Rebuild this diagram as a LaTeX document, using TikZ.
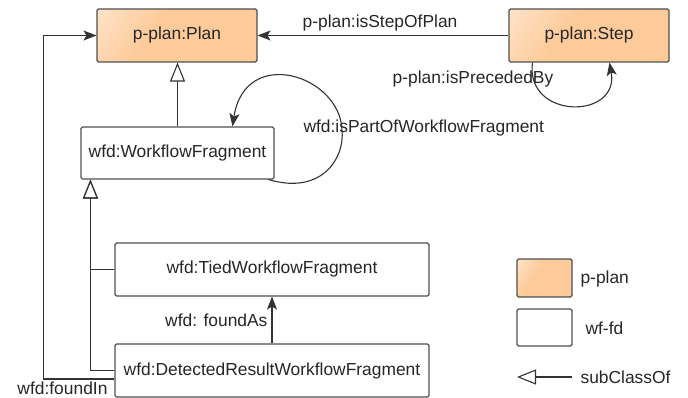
\documentclass[tikz,border=0pt]{standalone}
\usepackage{fontspec}
\setmainfont{Liberation Sans}
\usetikzlibrary{calc}
\usetikzlibrary{arrows.meta}
\usepackage{xcolor}

\definecolor{pplan}{HTML}{FDCB9A}
\definecolor{boxline}{HTML}{505050}
\pgfdeclarehorizontalshading{pplanshade}{100bp}{color(0bp)=(pplan!25!white); color(40bp)=(pplan); color(100bp)=(pplan)}

\tikzset{
 cls/.style={draw=boxline, line width=1.1pt, rounded corners=1.5pt, minimum height=53pt, inner sep=0pt, text=black!85},
 pplanbox/.style={cls, shading=pplanshade, shading angle=-35},
 wfbox/.style={cls, fill=white},
 isa/.style={-{Triangle[open, length=19pt, width=15pt, line width=1.1pt]}},
 rel/.style={->, >={Stealth[length=13pt, width=10pt, inset=3pt]}},
 lbl/.style={inner sep=0pt, text=black!85}
}

\begin{document}
\begin{tikzpicture}[x=1pt, y=-1pt, line width=1.1pt, font=\fontsize{17.4}{20}\selectfont, draw=black!80]
\useasboundingbox (0,0) rectangle (688,398);

\node[pplanbox, minimum width=160pt] (plan) at (177,35.5) {p-plan:Plan};
\node[pplanbox, minimum width=160pt] (step) at (589,35.5) {p-plan:Step};
\node[wfbox, minimum width=193pt, minimum height=52pt] (wf) at (177.5,153) {wfd:WorkflowFragment};
\node[wfbox, minimum width=314pt] (tied) at (272,269.5) {wfd:TiedWorkflowFragment};
\node[wfbox, minimum width=314pt] (detected) at (272,370.5) {wfd:DetectedResultWorkflowFragment};

\draw[rel] (step.west) -- (plan.east) node[lbl, midway, above=4pt, xshift=-3pt] {p-plan:isStepOfPlan};
\draw[rel] ($(step.south west)+(24,0)$) .. controls (525,120) and (620,120) .. ($(step.south west)+(101,0)$);
\node[lbl] (precededlbl) at (473,79) {p-plan:isPrecededBy};

\draw[rel] ($(wf.south east)+(-6,0)$) .. controls (320,195) and (345,160) .. (342,130) .. controls (340,75) and (245,45) .. ($(wf.north west)+(152,0)$);
\node[lbl, anchor=west] (partoflbl) at (303,128) {wfd:isPartOfWorkflowFragment};

\draw[isa] (wf.north) -- (wf.north |- plan.south);
\draw[isa] (tied.west) -| ($(wf.south west)+(10,0)$);
\draw[isa] (detected.west) -| ($(wf.south west)+(10,0)$);

\draw[rel] (detected.north) -- (tied.south) node[lbl, midway, left=4pt] {wfd: foundAs};
\draw[rel] ($(detected.west)+(0,8.5)$) -- ++(-71,0) coordinate (foundin) |- (plan.west);
\node[lbl, anchor=east] (foundinlbl) at (108,388) {wfd:foundIn};

\node[pplanbox, minimum width=55pt, minimum height=38pt] (legplan) at (544.5,278) {};
\node[wfbox, minimum width=55pt, minimum height=37pt] (legwf) at (544.5,327.5) {};
\node[lbl, anchor=west] (legplanlbl) at (580,279) {p-plan};
\node[lbl, anchor=west] (legwflbl) at (585,328) {wf-fd};
\coordinate (subA) at (572,377);
\coordinate (subB) at (517,377);
\draw[isa] (subA) -- (subB);
\node[lbl, anchor=west] (sublbl) at (580,377) {subClassOf};
\end{tikzpicture}
\end{document}
